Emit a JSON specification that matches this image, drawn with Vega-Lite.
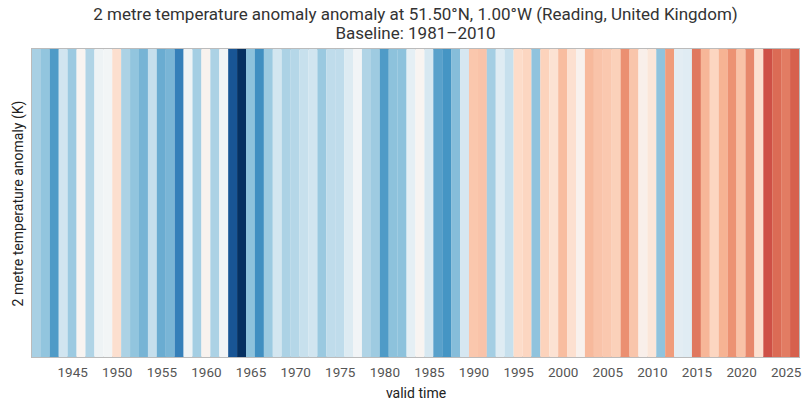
{
  "$schema": "https://vega.github.io/schema/vega-lite/v6.json",
  "width": 767,
  "height": 308,
  "autosize": {"type": "none"},
  "padding": {"left": 32, "top": 49, "right": 12, "bottom": 54},
  "background": "white",
  "title": {
    "text": [
      "2 metre temperature anomaly anomaly at 51.50°N, 1.00°W (Reading, United Kingdom)",
      "Baseline: 1981–2010"
    ],
    "fontSize": 17,
    "fontWeight": "normal",
    "color": "#333333",
    "lineHeight": 19,
    "offset": 6,
    "anchor": "middle",
    "frame": "group"
  },
  "data": {
    "values": [
      {"valid_time": "1940-12-31", "anomaly": -0.53},
      {"valid_time": "1941-12-31", "anomaly": -0.64},
      {"valid_time": "1942-12-31", "anomaly": -0.91},
      {"valid_time": "1943-12-31", "anomaly": -0.32},
      {"valid_time": "1944-12-31", "anomaly": -0.59},
      {"valid_time": "1945-12-31", "anomaly": 0.04},
      {"valid_time": "1946-12-31", "anomaly": -0.49},
      {"valid_time": "1947-12-31", "anomaly": -0.08},
      {"valid_time": "1948-12-31", "anomaly": -0.04},
      {"valid_time": "1949-12-31", "anomaly": 0.27},
      {"valid_time": "1950-12-31", "anomaly": -0.51},
      {"valid_time": "1951-12-31", "anomaly": -0.64},
      {"valid_time": "1952-12-31", "anomaly": -0.75},
      {"valid_time": "1953-12-31", "anomaly": -0.38},
      {"valid_time": "1954-12-31", "anomaly": -0.80},
      {"valid_time": "1955-12-31", "anomaly": -0.74},
      {"valid_time": "1956-12-31", "anomaly": -1.10},
      {"valid_time": "1957-12-31", "anomaly": -0.08},
      {"valid_time": "1958-12-31", "anomaly": -0.55},
      {"valid_time": "1959-12-31", "anomaly": 0.06},
      {"valid_time": "1960-12-31", "anomaly": -0.51},
      {"valid_time": "1961-12-31", "anomaly": -0.05},
      {"valid_time": "1962-12-31", "anomaly": -1.38},
      {"valid_time": "1963-12-31", "anomaly": -1.60},
      {"valid_time": "1964-12-31", "anomaly": -0.66},
      {"valid_time": "1965-12-31", "anomaly": -0.99},
      {"valid_time": "1966-12-31", "anomaly": -0.59},
      {"valid_time": "1967-12-31", "anomaly": -0.30},
      {"valid_time": "1968-12-31", "anomaly": -0.51},
      {"valid_time": "1969-12-31", "anomaly": -0.46},
      {"valid_time": "1970-12-31", "anomaly": -0.37},
      {"valid_time": "1971-12-31", "anomaly": -0.32},
      {"valid_time": "1972-12-31", "anomaly": -0.60},
      {"valid_time": "1973-12-31", "anomaly": -0.41},
      {"valid_time": "1974-12-31", "anomaly": -0.41},
      {"valid_time": "1975-12-31", "anomaly": -0.22},
      {"valid_time": "1976-12-31", "anomaly": -0.05},
      {"valid_time": "1977-12-31", "anomaly": -0.49},
      {"valid_time": "1978-12-31", "anomaly": -0.58},
      {"valid_time": "1979-12-31", "anomaly": -0.91},
      {"valid_time": "1980-12-31", "anomaly": -0.66},
      {"valid_time": "1981-12-31", "anomaly": -0.66},
      {"valid_time": "1982-12-31", "anomaly": -0.15},
      {"valid_time": "1983-12-31", "anomaly": 0.04},
      {"valid_time": "1984-12-31", "anomaly": -0.27},
      {"valid_time": "1985-12-31", "anomaly": -0.87},
      {"valid_time": "1986-12-31", "anomaly": -0.95},
      {"valid_time": "1987-12-31", "anomaly": -0.69},
      {"valid_time": "1988-12-31", "anomaly": -0.28},
      {"valid_time": "1989-12-31", "anomaly": 0.44},
      {"valid_time": "1990-12-31", "anomaly": 0.46},
      {"valid_time": "1991-12-31", "anomaly": -0.55},
      {"valid_time": "1992-12-31", "anomaly": -0.20},
      {"valid_time": "1993-12-31", "anomaly": -0.37},
      {"valid_time": "1994-12-31", "anomaly": 0.31},
      {"valid_time": "1995-12-31", "anomaly": 0.35},
      {"valid_time": "1996-12-31", "anomaly": -0.65},
      {"valid_time": "1997-12-31", "anomaly": 0.37},
      {"valid_time": "1998-12-31", "anomaly": 0.24},
      {"valid_time": "1999-12-31", "anomaly": 0.50},
      {"valid_time": "2000-12-31", "anomaly": 0.26},
      {"valid_time": "2001-12-31", "anomaly": 0.07},
      {"valid_time": "2002-12-31", "anomaly": 0.52},
      {"valid_time": "2003-12-31", "anomaly": 0.46},
      {"valid_time": "2004-12-31", "anomaly": 0.43},
      {"valid_time": "2005-12-31", "anomaly": 0.38},
      {"valid_time": "2006-12-31", "anomaly": 0.74},
      {"valid_time": "2007-12-31", "anomaly": 0.45},
      {"valid_time": "2008-12-31", "anomaly": 0.09},
      {"valid_time": "2009-12-31", "anomaly": 0.20},
      {"valid_time": "2010-12-31", "anomaly": -0.65},
      {"valid_time": "2011-12-31", "anomaly": 0.68},
      {"valid_time": "2012-12-31", "anomaly": -0.17},
      {"valid_time": "2013-12-31", "anomaly": -0.19},
      {"valid_time": "2014-12-31", "anomaly": 0.85},
      {"valid_time": "2015-12-31", "anomaly": 0.54},
      {"valid_time": "2016-12-31", "anomaly": 0.35},
      {"valid_time": "2017-12-31", "anomaly": 0.56},
      {"valid_time": "2018-12-31", "anomaly": 0.73},
      {"valid_time": "2019-12-31", "anomaly": 0.47},
      {"valid_time": "2020-12-31", "anomaly": 0.78},
      {"valid_time": "2021-12-31", "anomaly": 0.26},
      {"valid_time": "2022-12-31", "anomaly": 1.03},
      {"valid_time": "2023-12-31", "anomaly": 0.91},
      {"valid_time": "2024-12-31", "anomaly": 0.83},
      {"valid_time": "2025-12-31", "anomaly": 0.96}
    ]
  },
  "mark": {"type": "bar", "width": 9, "clip": true},
  "encoding": {
    "x": {
      "field": "valid_time",
      "type": "temporal",
      "scale": {
        "type": "utc",
        "nice": false,
        "padding": 0,
        "domain": [
          {"year": 1940, "month": 7, "date": 1, "utc": true},
          {"year": 2026, "month": 7, "date": 1, "utc": true}
        ]
      },
      "axis": {
        "title": "valid time",
        "format": "%Y",
        "formatType": "utc",
        "tickCount": {"interval": "year", "step": 5},
        "grid": false,
        "ticks": false,
        "domain": false,
        "labelFlush": false,
        "labelPadding": 8,
        "labelFontSize": 13.5,
        "labelColor": "#555555",
        "titleFontSize": 14,
        "titleFontWeight": "normal",
        "titleColor": "#222222",
        "titlePadding": 8
      }
    },
    "y": {
      "datum": 1,
      "type": "quantitative",
      "scale": {"domain": [0, 1], "nice": false, "padding": 0},
      "axis": {
        "title": "2 metre temperature anomaly (K)",
        "labels": false,
        "ticks": false,
        "domain": false,
        "grid": false,
        "titleFontSize": 14,
        "titleFontWeight": "normal",
        "titleColor": "#222222",
        "titlePadding": 7
      }
    },
    "color": {
      "field": "anomaly",
      "type": "quantitative",
      "title": "2 metre temperature anomaly (K)",
      "scale": {
        "type": "linear",
        "domain": [-1.6, -1.28, -0.96, -0.64, -0.32, 0, 0.32, 0.64, 0.96, 1.28, 1.6],
        "range": ["#053061", "#2166ac", "#4393c3", "#92c5de", "#d1e5f0", "#f7f7f7", "#fddbc7", "#f4a582", "#d6604d", "#b2182b", "#67001f"],
        "interpolate": "rgb",
        "nice": false
      },
      "legend": null
    },
    "tooltip": [
      {"field": "valid_time", "type": "temporal", "format": "%Y", "formatType": "utc", "title": "valid time"},
      {"field": "anomaly", "type": "quantitative", "format": ".2f", "title": "anomaly (K)"}
    ]
  },
  "config": {
    "font": "Roboto",
    "view": {"stroke": "#bbbbbb", "strokeWidth": 2}
  }
}
